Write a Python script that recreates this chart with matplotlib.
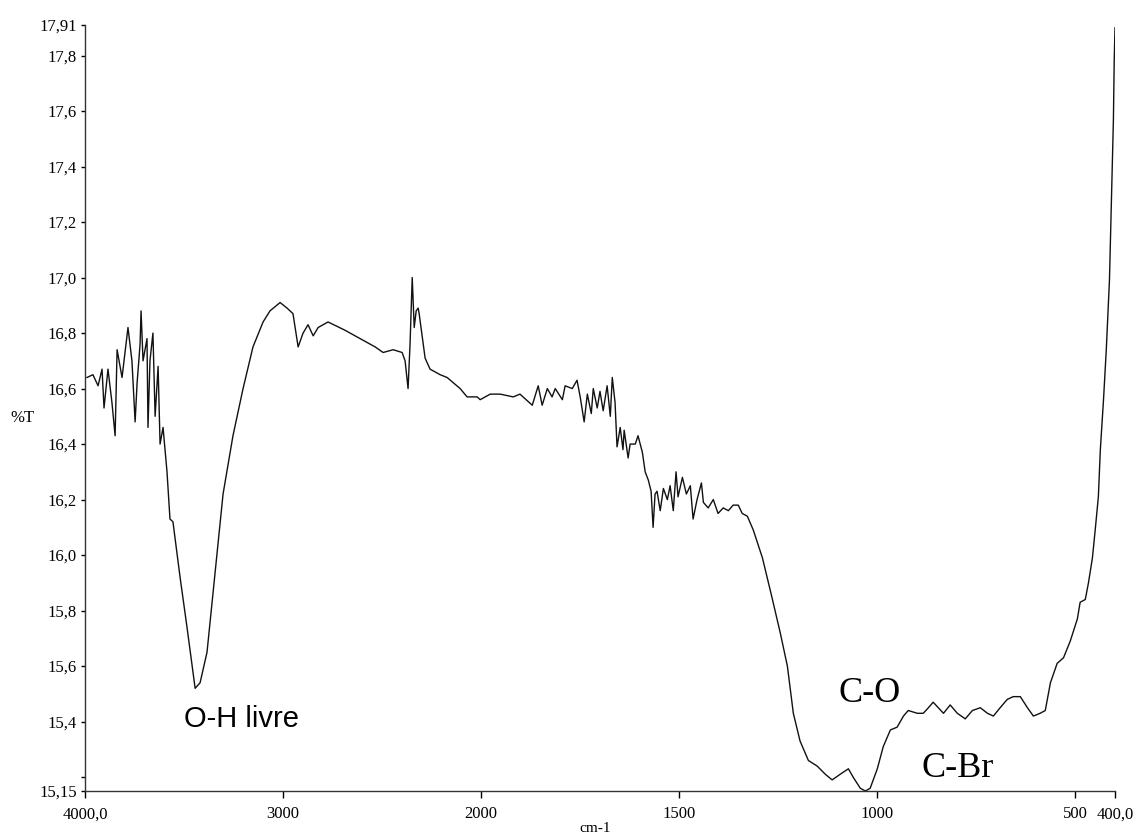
import numpy as np
import matplotlib
matplotlib.use("Agg")
import matplotlib.pyplot as plt

# wavenumber (cm-1) and %T
wavenumber = [
    3990, 3960, 3934, 3914, 3904, 3884, 3864, 3848, 3838, 3813,
    3783, 3763, 3747, 3737, 3722, 3717, 3707, 3687, 3682, 3672,
    3657, 3646, 3631, 3621, 3606, 3586, 3571, 3556, 3520, 3485,
    3444, 3419, 3384, 3354, 3303, 3253, 3202, 3152, 3101, 3066,
    3015, 2980, 2950, 2924, 2899, 2874, 2848, 2823, 2773, 2687,
    2611, 2535, 2495, 2444, 2399, 2384, 2369, 2359, 2348, 2338,
    2328, 2318, 2313, 2298, 2283, 2258, 2207, 2172, 2106, 2071,
    2020, 2005,
    1977, 1952, 1919, 1902, 1871, 1856, 1846, 1833, 1821, 1813,
    1795, 1788, 1770, 1758, 1750, 1740, 1732, 1722, 1717, 1707,
    1700, 1692, 1682, 1674, 1669, 1662, 1657, 1649, 1642, 1639,
    1629, 1624, 1611, 1604, 1593, 1586, 1578, 1571, 1566, 1561,
    1556, 1548, 1540, 1530, 1523, 1515, 1508, 1503, 1492, 1482,
    1472, 1465, 1455, 1444, 1439, 1427, 1414, 1402, 1389, 1376,
    1364, 1351, 1341, 1328, 1313, 1290, 1268, 1245, 1227, 1212,
    1195, 1174, 1152, 1131, 1114, 1094, 1073, 1061, 1043, 1030,
    1018, 1000, 985, 967, 950, 934, 922, 899, 884, 871,
    859, 846, 833, 816, 798, 778, 760, 740, 722, 707,
    690, 672, 657, 639, 621, 606, 589, 576, 563, 546,
    530, 513, 495, 488, 475, 467, 457, 450, 442, 437,
    429, 422, 414, 409, 404, 402, 400,
]
transmittance = [
    16.64, 16.65, 16.61, 16.67, 16.53, 16.67, 16.55, 16.43, 16.74, 16.64,
    16.82, 16.70, 16.48, 16.62, 16.76, 16.88, 16.70, 16.78, 16.46, 16.70,
    16.80, 16.50, 16.68, 16.40, 16.46, 16.30, 16.13, 16.12, 15.92, 15.74,
    15.52, 15.54, 15.65, 15.86, 16.22, 16.43, 16.60, 16.75, 16.84, 16.88,
    16.91, 16.89, 16.87, 16.75, 16.80, 16.83, 16.79, 16.82, 16.84, 16.81,
    16.78, 16.75, 16.73, 16.74, 16.73, 16.70, 16.60, 16.76, 17.00, 16.82,
    16.88, 16.89, 16.87, 16.79, 16.71, 16.67, 16.65, 16.64, 16.60, 16.57,
    16.57, 16.56,
    16.58, 16.58, 16.57, 16.58, 16.54, 16.61, 16.54, 16.60, 16.57, 16.60,
    16.56, 16.61, 16.60, 16.63, 16.57, 16.48, 16.58, 16.51, 16.60, 16.53,
    16.59, 16.52, 16.61, 16.50, 16.64, 16.55, 16.39, 16.46, 16.38, 16.45,
    16.35, 16.40, 16.40, 16.43, 16.37, 16.30, 16.27, 16.23, 16.10, 16.22,
    16.23, 16.16, 16.24, 16.20, 16.25, 16.16, 16.30, 16.21, 16.28, 16.22,
    16.25, 16.13, 16.20, 16.26, 16.19, 16.17, 16.20, 16.15, 16.17, 16.16,
    16.18, 16.18, 16.15, 16.14, 16.09, 15.99, 15.86, 15.72, 15.60, 15.43,
    15.33, 15.26, 15.24, 15.21, 15.19, 15.21, 15.23, 15.20, 15.16, 15.15,
    15.16, 15.23, 15.31, 15.37, 15.38, 15.42, 15.44, 15.43, 15.43, 15.45,
    15.47, 15.45, 15.43, 15.46, 15.43, 15.41, 15.44, 15.45, 15.43, 15.42,
    15.45, 15.48, 15.49, 15.49, 15.45, 15.42, 15.43, 15.44, 15.54, 15.61,
    15.63, 15.69, 15.77, 15.83, 15.84, 15.90, 15.99, 16.09, 16.21, 16.38,
    16.56, 16.74, 16.99, 17.28, 17.57, 17.78, 17.90,
]

x_ticks = [4000, 3000, 2000, 1500, 1000, 500, 400]
x_labels = ["4000,0", "3000", "2000", "1500", "1000", "500", "400,0"]
y_ticks = [15.15, 15.4, 15.6, 15.8, 16.0, 16.2, 16.4, 16.6, 16.8,
           17.0, 17.2, 17.4, 17.6, 17.8, 17.91]
y_labels = ["15,15", "15,4", "15,6", "15,8", "16,0", "16,2", "16,4", "16,6",
            "16,8", "17,0", "17,2", "17,4", "17,6", "17,8", "17,91"]


# spectrometer scale: half as many cm-1 per unit below 2000
def fwd(w):
    w = np.asarray(w, dtype=float)
    return np.where(w <= 2000, (w - 400) / 500.0, 3.2 + (w - 2000) / 1000.0)


def inv(u):
    u = np.asarray(u, dtype=float)
    return np.where(u <= 3.2, 400 + 500.0 * u, 2000 + 1000.0 * (u - 3.2))


serif = "Liberation Serif"

fig = plt.figure(figsize=(11.36, 8.36), dpi=100)
ax = fig.add_axes([85 / 1136, 45 / 836, 1030 / 1136, 766 / 836])
ax.set_xscale("function", functions=(fwd, inv))
ax.plot(wavenumber, transmittance, color="#111111", lw=1.0)
ax.set_xlim(4000, 400)
ax.set_ylim(15.15, 17.91)

for s in ["top", "right"]:
    ax.spines[s].set_visible(False)
for s in ["left", "bottom"]:
    ax.spines[s].set_color("#333333")
    ax.spines[s].set_linewidth(1.0)

ax.set_xticks(x_ticks)
ax.set_xticklabels(x_labels, fontfamily=serif, fontsize=12)
ax.set_yticks(y_ticks)
ax.set_yticklabels(y_labels, fontfamily=serif, fontsize=12)
ax.set_yticks([15.2], minor=True)
ax.tick_params(axis="x", direction="out", length=5, width=1, pad=6)
ax.tick_params(axis="y", direction="out", length=3, width=1, pad=3)
ax.tick_params(axis="y", which="minor", length=3, width=1)
ax.tick_params(axis="x", which="minor", length=0)

fig.text(10 / 1136, 1 - 418 / 836, "%T", fontfamily=serif, fontsize=12,
         ha="left", va="center")
fig.text(595 / 1136, 1 - 828 / 836, "cm-1", fontfamily=serif, fontsize=11,
         ha="center", va="center")

ax.text(3210, 15.41, "O-H livre", fontfamily="Liberation Sans", fontsize=21,
        ha="center", va="center")
ax.text(1020, 15.50, "C-O", fontfamily=serif, fontsize=26,
        ha="center", va="center")
ax.text(796, 15.23, "C-Br", fontfamily=serif, fontsize=26,
        ha="center", va="center")

fig.savefig("out.png", dpi=100)
